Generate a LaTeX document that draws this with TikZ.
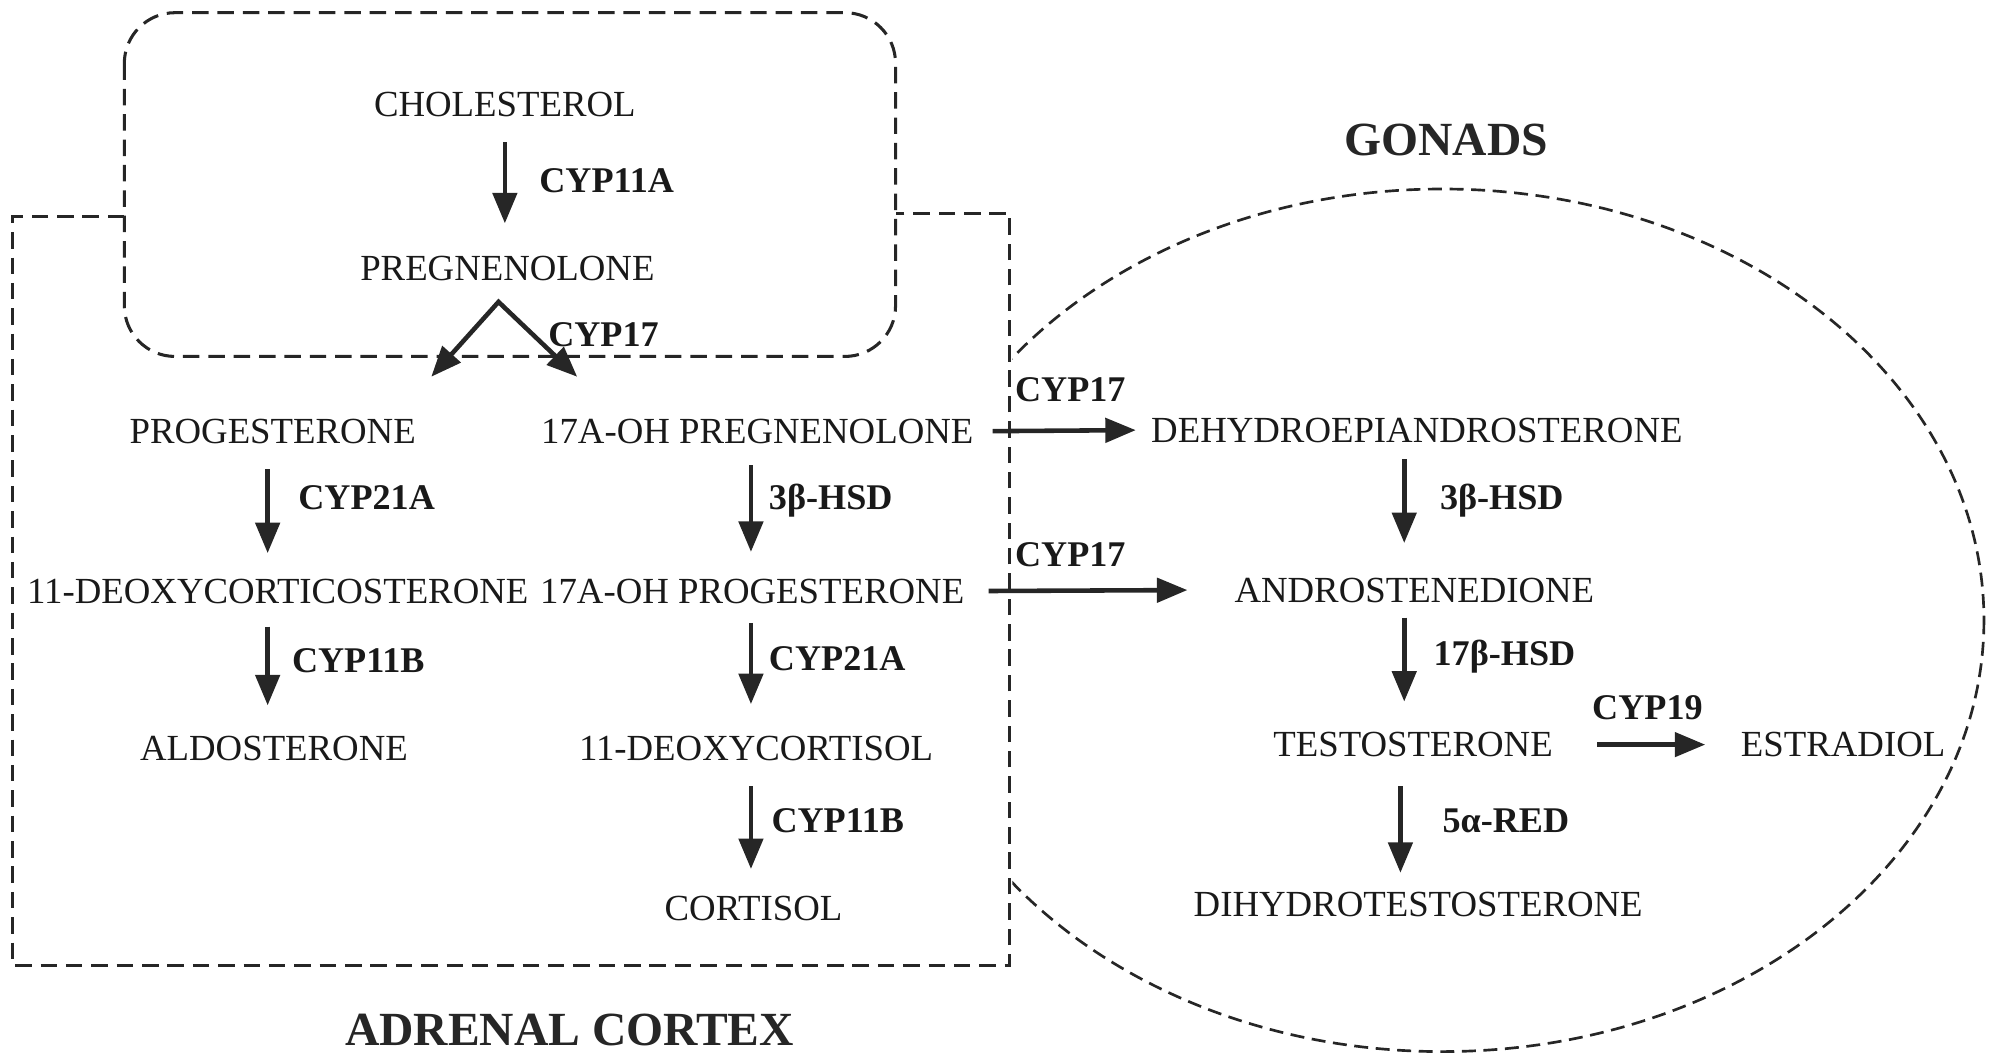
\documentclass[tikz,border=0pt]{standalone}
\usepackage{fontspec}
\setmainfont{Liberation Serif}
\usetikzlibrary{arrows.meta}
\tikzset{
  chem/.style={font=\fontsize{29}{34}\selectfont, inner sep=0pt, text height=19.5pt, text depth=0pt, text=black!90},
  enz/.style={font=\fontsize{28.5}{34}\selectfont\bfseries, inner sep=0pt, anchor=west, text height=19pt, text depth=0pt, text=black!90},
  region/.style={font=\fontsize{37.5}{44}\selectfont\bfseries, inner sep=0pt, text height=25pt, text depth=0pt, text=black!85},
  flow/.style={line width=3.6pt, draw=black!85, -{Triangle[length=24pt,width=19pt]}},
  fork/.style={line width=3.6pt, draw=black!85, miter limit=10, {Triangle[length=24pt,width=19pt]}-{Triangle[length=24pt,width=19pt]}},
  boundary/.style={draw=black!85, dash pattern=on 13pt off 7pt, line width=2.4pt},
  gonadline/.style={draw=black!85, dash pattern=on 11pt off 6pt, line width=2.1pt},
}
\begin{document}
\begin{tikzpicture}[x=1pt,y=-1pt]
\useasboundingbox (0,0) rectangle (1568,832);

% compartments
\draw[boundary, rounded corners=40pt] (98,10) rectangle (706,281);
\draw[boundary] (98,171) -- (10,171) -- (10,761) -- (796,761) -- (796,168) -- (706,168);
\begin{scope}
  \clip (798,0) rectangle (1568,832);
  \draw[gonadline] (1137,489) ellipse [x radius=427, y radius=340];
\end{scope}

% titles
\node[region] (gonads) at (1140,110) {GONADS};
\node[region] (adrenal) at (449,812) {ADRENAL CORTEX};

% metabolites
\node[chem] (chol) at (398,82) {CHOLESTEROL};
\node[chem] (preg) at (400,211) {PREGNENOLONE};
\node[chem] (prog) at (215,340) {PROGESTERONE};
\node[chem] (ohpreg) at (597,340) {17A-OH PREGNENOLONE};
\node[chem] (doc) at (219,466) {11-DEOXYCORTICOSTERONE};
\node[chem] (ohprog) at (593,466) {17A-OH PROGESTERONE};
\node[chem] (aldo) at (216,590) {ALDOSTERONE};
\node[chem] (deoxyc) at (596,590) {11-DEOXYCORTISOL};
\node[chem] (cort) at (594,716) {CORTISOL};
\node[chem] (dhea) at (1117,339) {DEHYDROEPIANDROSTERONE};
\node[chem] (andro) at (1115,465) {ANDROSTENEDIONE};
\node[chem] (testo) at (1114,587) {TESTOSTERONE};
\node[chem] (estra) at (1453,587) {ESTRADIOL};
\node[chem] (dht) at (1118,713) {DIHYDROTESTOSTERONE};

% enzymes
\node[enz] (e1) at (425,142) {CYP11A};
\node[enz] (e2) at (432,264) {CYP17};
\node[enz] (e3) at (235,392) {CYP21A};
\node[enz] (e4) at (606,392) {3β-HSD};
\node[enz] (e5) at (230,521) {CYP11B};
\node[enz] (e6) at (606,519) {CYP21A};
\node[enz] (e7) at (608,647) {CYP11B};
\node[enz] (e8) at (800,307) {CYP17};
\node[enz] (e9) at (800,437) {CYP17};
\node[enz] (e10) at (1135,392) {3β-HSD};
\node[enz] (e11) at (1130,515) {17β-HSD};
\node[enz] (e12) at (1255,558) {CYP19};
\node[enz] (e13) at (1137,647) {5α-RED};

% fork
\coordinate (apex) at (393,238);
\coordinate (forkL) at (340,297);
\coordinate (forkR) at (455,297);
\draw[fork] (forkL) -- (apex) -- (forkR);

% vertical arrows
\draw[flow, shorten <=20pt, shorten >=25pt] (chol.south) -- (chol.south |- preg.north);
\draw[flow, shorten <=20pt, shorten >=20pt] ([xshift=-4pt]prog.south) -- ([xshift=-4pt]prog.south |- doc.north);
\draw[flow, shorten <=17pt, shorten >=21pt] ([xshift=-5pt]ohpreg.south) -- ([xshift=-5pt]ohpreg.south |- ohprog.north);
\draw[flow, shorten <=18pt, shorten >=24pt] ([xshift=-8pt]doc.south) -- ([xshift=-8pt]doc.south |- aldo.north);
\draw[flow, shorten <=15pt, shorten >=25pt] ([xshift=-1pt]ohprog.south) -- ([xshift=-1pt]ohprog.south |- deoxyc.north);
\draw[flow, shorten <=20pt, shorten >=21pt] ([xshift=-4pt]deoxyc.south) -- ([xshift=-4pt]deoxyc.south |- cort.north);
\draw[flow, shorten <=13pt, shorten >=27pt] ([xshift=-10pt]dhea.south) -- ([xshift=-10pt]dhea.south |- andro.north);
\draw[flow, shorten <=12pt, shorten >=24pt] ([xshift=-8pt]andro.south) -- ([xshift=-8pt]andro.south |- testo.north);
\draw[flow, shorten <=23pt, shorten >=15pt] ([xshift=-10pt]testo.south) -- ([xshift=-10pt]testo.south |- dht.north);

% horizontal arrows
\draw[flow, shorten <=15pt, shorten >=12pt] (ohpreg.east) -- (dhea.west);
\draw[flow, shorten <=19pt, shorten >=37pt] (ohprog.east) -- (andro.west);
\draw[flow, shorten <=35pt, shorten >=28pt] (testo.east) -- (estra.west);
\end{tikzpicture}
\end{document}
